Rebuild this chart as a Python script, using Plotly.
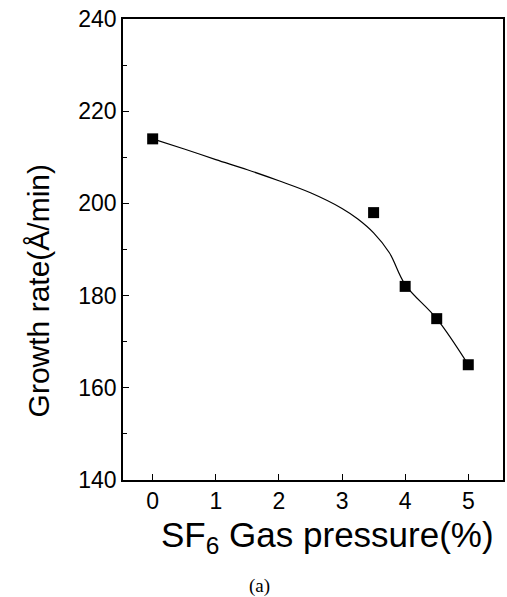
import plotly.graph_objects as go

# Measured data
pressure = [0, 3.5, 4, 4.5, 5]
growth_rate = [214, 198, 182, 175, 165]

# Fitted curve
fit_x = [0, 0.5, 1, 1.5, 2, 2.5, 3, 3.25, 3.5, 3.75, 4, 4.5, 5]
fit_y = [214, 211.8, 209.5, 207.3, 204.9, 202.3, 198.9, 196.6, 193.6, 189.3, 182.4, 175, 165]

x_ticks = [0, 1, 2, 3, 4, 5]
y_ticks = [140, 160, 180, 200, 220, 240]

x_title = "SF<sub>6</sub> Gas pressure(%)"
y_title = "Growth rate(Å/min)"
panel_label = "(a)"

fig = go.Figure()
fig.add_trace(go.Scatter(
    x=fit_x, y=fit_y, mode="lines",
    line=dict(color="black", width=1.2, shape="spline", smoothing=1.0),
    showlegend=False, hoverinfo="skip"))
fig.add_trace(go.Scatter(
    x=pressure, y=growth_rate, mode="markers",
    marker=dict(symbol="square", size=11, color="black"),
    showlegend=False))

font_family = "Liberation Sans, Arial, sans-serif"
fig.update_layout(
    width=507, height=597,
    margin=dict(l=123, r=2, t=19, b=117),
    plot_bgcolor="white", paper_bgcolor="white",
    font=dict(family=font_family, color="black"),
    xaxis=dict(
        range=[-0.47, 5.55], tickvals=x_ticks,
        ticks="inside", ticklen=6, tickwidth=1.2, tickcolor="black",
        showline=True, linecolor="black", linewidth=1.5, mirror=True,
        showgrid=False, zeroline=False,
        tickfont=dict(size=23, family=font_family),
    ),
    yaxis=dict(
        range=[140, 240], tickvals=y_ticks,
        ticks="inside", ticklen=6, tickwidth=1.2, tickcolor="black",
        minor=dict(dtick=10, ticks="inside", ticklen=4, tickcolor="black", showgrid=False),
        showline=True, linecolor="black", linewidth=1.5, mirror=True,
        showgrid=False, zeroline=False,
        tickfont=dict(size=23, family=font_family),
    ),
    annotations=[
        dict(text=x_title, xref="paper", yref="paper", x=0.537, y=-0.123,
             xanchor="center", yanchor="middle", showarrow=False,
             font=dict(size=35, family=font_family, color="black")),
        dict(text=y_title, xref="paper", yref="paper", x=-0.22, y=0.41,
             xanchor="center", yanchor="middle", showarrow=False, textangle=-90,
             font=dict(size=30, family=font_family, color="black")),
        dict(text=panel_label, xref="paper", yref="paper", x=0.359, y=-0.23,
             xanchor="center", yanchor="middle", showarrow=False,
             font=dict(size=19, family="Liberation Serif, Times New Roman, serif", color="black")),
    ],
)

fig.write_html("out.html")
